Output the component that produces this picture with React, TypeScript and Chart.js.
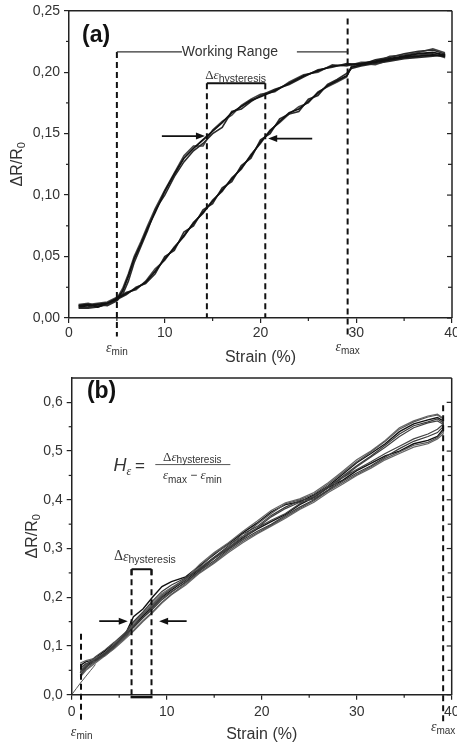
import React, { useEffect, useRef } from "react";
import { Chart, registerables } from "chart.js";
Chart.register(...registerables);

const SANS = '"Liberation Sans", Arial, Helvetica, sans-serif';
const SERIF = '"Liberation Serif", "Times New Roman", serif';
const INK = "#333";
const AXIS = "#222";

// ---------------- Panel (a) data ----------------
const A_UP_X = [1, 2, 3, 4, 5, 5.6, 6.2, 6.8, 7.5, 8.2, 9, 10, 11, 12, 13, 14, 15, 16, 17, 18, 19, 20, 21.5, 23, 24.5, 26, 27.5, 29, 30.5, 32, 33.5, 35, 36.5, 38, 39.2];
const A_UP_1 = [0.010, 0.011, 0.009, 0.012, 0.015, 0.022, 0.034, 0.048, 0.060, 0.073, 0.086, 0.103, 0.117, 0.130, 0.138, 0.145, 0.152, 0.159, 0.167, 0.172, 0.177, 0.180, 0.185, 0.191, 0.197, 0.201, 0.205, 0.206, 0.207, 0.209, 0.211, 0.213, 0.215, 0.216, 0.214];
const A_UP_2 = [0.008, 0.009, 0.011, 0.010, 0.014, 0.019, 0.030, 0.045, 0.058, 0.071, 0.088, 0.100, 0.115, 0.127, 0.136, 0.142, 0.150, 0.155, 0.168, 0.170, 0.176, 0.181, 0.186, 0.190, 0.196, 0.202, 0.204, 0.207, 0.206, 0.210, 0.212, 0.215, 0.217, 0.218, 0.215];
const A_UP_3 = [0.011, 0.012, 0.010, 0.011, 0.016, 0.024, 0.036, 0.050, 0.062, 0.075, 0.089, 0.104, 0.118, 0.132, 0.140, 0.140, 0.153, 0.160, 0.165, 0.173, 0.178, 0.182, 0.184, 0.192, 0.198, 0.200, 0.206, 0.205, 0.208, 0.208, 0.213, 0.214, 0.216, 0.219, 0.216];
const A_DN_X = [39.2, 38, 36.5, 35, 33.5, 32, 30.5, 29.5, 29, 28, 27, 26, 25, 24, 23, 22, 21, 20, 19, 18, 17, 16, 15, 14, 13, 12, 11, 10, 9, 8, 7, 6, 5, 4, 3, 2, 1];
const A_DN_1 = [0.213, 0.214, 0.213, 0.212, 0.210, 0.208, 0.206, 0.204, 0.197, 0.193, 0.189, 0.183, 0.176, 0.170, 0.167, 0.160, 0.152, 0.143, 0.132, 0.122, 0.113, 0.104, 0.095, 0.086, 0.077, 0.067, 0.057, 0.048, 0.038, 0.029, 0.024, 0.020, 0.016, 0.012, 0.011, 0.010, 0.009];
const A_DN_2 = [0.214, 0.213, 0.212, 0.211, 0.209, 0.207, 0.205, 0.203, 0.199, 0.194, 0.190, 0.181, 0.178, 0.168, 0.166, 0.162, 0.150, 0.145, 0.130, 0.124, 0.111, 0.106, 0.093, 0.088, 0.075, 0.070, 0.055, 0.050, 0.036, 0.028, 0.025, 0.019, 0.015, 0.011, 0.009, 0.008, 0.008];
const A_DN_3 = [0.212, 0.215, 0.214, 0.212, 0.210, 0.206, 0.207, 0.205, 0.196, 0.192, 0.188, 0.184, 0.175, 0.172, 0.166, 0.159, 0.153, 0.142, 0.133, 0.121, 0.114, 0.103, 0.096, 0.085, 0.078, 0.066, 0.058, 0.047, 0.040, 0.030, 0.023, 0.021, 0.017, 0.013, 0.012, 0.011, 0.010];
const A_X_TICKS = [0, 10, 20, 30, 40];
const A_X_MINOR = [5, 15, 25, 35];
const A_Y_TICKS = [0, 0.05, 0.1, 0.15, 0.2, 0.25];
const A_Y_MINOR = [0.025, 0.075, 0.125, 0.175, 0.225];
const A_EPS_MIN = 5;
const A_EPS_MAX = 29.1;
const A_HYST = [14.4, 20.5];
const A_RANGE_LEVEL = 0.2165;
const A_MAX_TOP = 0.2437;
const A_HYST_LEVEL = 0.191;

// ---------------- Panel (b) data ----------------
const B_UP_X = [0.9, 1.5, 2.5, 3.5, 4.5, 5.5, 6.5, 7.5, 8.5, 9.5, 10.5, 12, 13.5, 15, 16.5, 18, 19.5, 21, 22.5, 24, 25.5, 27, 28.5, 30, 31.5, 33, 34.5, 36, 37.5, 38.5, 39.1];
const B_UP_1 = [0.060, 0.068, 0.072, 0.080, 0.097, 0.118, 0.160, 0.176, 0.200, 0.222, 0.232, 0.242, 0.265, 0.288, 0.310, 0.332, 0.352, 0.375, 0.390, 0.396, 0.410, 0.428, 0.452, 0.476, 0.495, 0.515, 0.540, 0.556, 0.564, 0.569, 0.562];
const B_UP_2 = [0.055, 0.064, 0.070, 0.083, 0.100, 0.122, 0.150, 0.170, 0.192, 0.212, 0.225, 0.240, 0.258, 0.282, 0.305, 0.330, 0.345, 0.368, 0.385, 0.398, 0.405, 0.425, 0.448, 0.470, 0.490, 0.512, 0.535, 0.552, 0.560, 0.566, 0.558];
const B_UP_3 = [0.050, 0.062, 0.074, 0.085, 0.102, 0.118, 0.145, 0.165, 0.185, 0.205, 0.218, 0.236, 0.262, 0.290, 0.308, 0.325, 0.350, 0.372, 0.392, 0.400, 0.412, 0.432, 0.455, 0.478, 0.498, 0.520, 0.545, 0.560, 0.570, 0.574, 0.566];
const B_UP_4 = [0.045, 0.058, 0.068, 0.082, 0.098, 0.115, 0.138, 0.158, 0.178, 0.198, 0.212, 0.230, 0.255, 0.280, 0.300, 0.320, 0.342, 0.365, 0.382, 0.395, 0.402, 0.420, 0.445, 0.468, 0.488, 0.508, 0.530, 0.548, 0.558, 0.562, 0.555];
const B_UP_5 = [0.065, 0.070, 0.075, 0.086, 0.104, 0.124, 0.148, 0.168, 0.188, 0.208, 0.220, 0.238, 0.268, 0.292, 0.312, 0.335, 0.356, 0.378, 0.394, 0.402, 0.415, 0.435, 0.458, 0.482, 0.500, 0.522, 0.548, 0.562, 0.572, 0.576, 0.568];
const B_DN_X = [39.1, 38.5, 37.5, 36, 34.5, 33, 31.5, 30, 28.5, 27, 25.5, 24, 22.5, 21, 19.5, 18, 16.5, 15, 13.5, 12, 10.5, 9.5, 8.5, 7.5, 6.5, 5.5, 4.5, 3.5, 2.5, 1.5, 0.9];
const B_DN_1 = [0.545, 0.530, 0.522, 0.515, 0.500, 0.490, 0.475, 0.460, 0.440, 0.425, 0.405, 0.390, 0.370, 0.355, 0.340, 0.322, 0.300, 0.280, 0.258, 0.235, 0.215, 0.200, 0.180, 0.162, 0.140, 0.122, 0.105, 0.090, 0.075, 0.058, 0.045];
const B_DN_2 = [0.550, 0.538, 0.530, 0.520, 0.505, 0.488, 0.470, 0.455, 0.438, 0.420, 0.400, 0.385, 0.368, 0.350, 0.335, 0.318, 0.298, 0.275, 0.255, 0.232, 0.210, 0.195, 0.175, 0.158, 0.138, 0.120, 0.102, 0.086, 0.072, 0.055, 0.040];
const B_DN_3 = [0.540, 0.528, 0.518, 0.512, 0.498, 0.485, 0.468, 0.452, 0.435, 0.418, 0.398, 0.382, 0.365, 0.348, 0.332, 0.315, 0.295, 0.272, 0.252, 0.228, 0.206, 0.190, 0.170, 0.152, 0.132, 0.115, 0.098, 0.083, 0.068, 0.052, 0.038];
const B_DN_4 = [0.555, 0.545, 0.535, 0.525, 0.510, 0.495, 0.478, 0.462, 0.445, 0.428, 0.408, 0.392, 0.372, 0.358, 0.342, 0.325, 0.302, 0.282, 0.260, 0.238, 0.218, 0.202, 0.182, 0.165, 0.142, 0.125, 0.108, 0.092, 0.078, 0.060, 0.048];
const B_DN_5 = [0.535, 0.525, 0.515, 0.508, 0.495, 0.482, 0.465, 0.450, 0.432, 0.415, 0.395, 0.380, 0.362, 0.346, 0.330, 0.312, 0.292, 0.270, 0.250, 0.225, 0.205, 0.188, 0.168, 0.150, 0.130, 0.112, 0.095, 0.080, 0.065, 0.050, 0.036];
const B_FIRST_X = [0, 0.5, 1, 1.5, 2, 2.5];
const B_FIRST_Y = [0, 0.013, 0.026, 0.038, 0.05, 0.062];
const B_X_TICKS = [0, 10, 20, 30, 40];
const B_X_MINOR = [5, 15, 25, 35];
const B_Y_TICKS = [0, 0.1, 0.2, 0.3, 0.4, 0.5, 0.6];
const B_Y_MINOR = [0.05, 0.15, 0.25, 0.35, 0.45, 0.55];
const B_EPS_MIN = 0.98;
const B_EPS_MAX = 39.1;
const B_HYST = [6.3, 8.4];
const B_HYST_LEVEL = 0.2575;

// ---------------- helpers ----------------
type Run = [string, string, number?];
const sans = (s: number) => `${s}px ${SANS}`;
const serif = (s: number) => `${s}px ${SERIF}`;
const serifI = (s: number) => `italic ${s}px ${SERIF}`;

function drawRuns(ctx: CanvasRenderingContext2D, runs: Run[], x: number, y: number, align: "center" | "left" = "center") {
  let w = 0;
  for (const [t, f] of runs) { ctx.font = f; w += ctx.measureText(t).width; }
  let cx = align === "center" ? x - w / 2 : x;
  ctx.textAlign = "left";
  ctx.textBaseline = "middle";
  for (const [t, f, dy] of runs) {
    ctx.font = f;
    ctx.fillText(t, cx, y + (dy || 0));
    cx += ctx.measureText(t).width;
  }
}
const epsRuns = (sub: string, s: number, ss: number): Run[] => [["ε", serifI(s)], [sub, sans(ss), ss * 0.4]];
const hystRuns = (s: number, ss: number): Run[] => [["Δ", serif(s)], ["ε", serifI(s)], ["hysteresis", sans(ss), ss * 0.35]];

function vline(ctx: CanvasRenderingContext2D, x: number, y1: number, y2: number) {
  ctx.beginPath(); ctx.moveTo(x, y1); ctx.lineTo(x, y2); ctx.stroke();
}
function hline(ctx: CanvasRenderingContext2D, y: number, x1: number, x2: number) {
  ctx.beginPath(); ctx.moveTo(x1, y); ctx.lineTo(x2, y); ctx.stroke();
}
function arrow(ctx: CanvasRenderingContext2D, x1: number, y1: number, x2: number, y2: number) {
  const a = Math.atan2(y2 - y1, x2 - x1);
  const L = 9, W = 3.5;
  const c = Math.cos(a), s = Math.sin(a);
  ctx.beginPath(); ctx.moveTo(x1, y1); ctx.lineTo(x2 - L * 0.7 * c, y2 - L * 0.7 * s); ctx.stroke();
  ctx.beginPath();
  ctx.moveTo(x2, y2);
  ctx.lineTo(x2 - L * c + W * s, y2 - L * s - W * c);
  ctx.lineTo(x2 - L * c - W * s, y2 - L * s + W * c);
  ctx.closePath(); ctx.fill();
}

const pts = (xs: number[], ys: number[]) => xs.map((x, i) => ({ x, y: ys[i] }));

type Spec = {
  datasets: any[];
  xTicks: number[]; xMinor: number[]; yTicks: number[]; yMinor: number[];
  yMax: number; decimals: number;
  yAxisWidth: number; xAxisHeight: number; padTop: number; padRight: number;
  yTitleX: number; xTitleY: number; tickPadX: number;
  annotate: (ctx: CanvasRenderingContext2D, X: (v: number) => number, Y: (v: number) => number) => void;
};

function makeConfig(spec: Spec): any {
  const deco = {
    id: "deco",
    afterDraw(chart: any) {
      const ctx: CanvasRenderingContext2D = chart.ctx;
      const a = chart.chartArea;
      const xs = chart.scales.x, ys = chart.scales.y;
      const X = (v: number) => xs.getPixelForValue(v);
      const Y = (v: number) => ys.getPixelForValue(v);
      ctx.save();
      // box: top + right
      ctx.strokeStyle = AXIS; ctx.lineWidth = 1.5;
      hline(ctx, a.top, a.left, a.right);
      vline(ctx, a.right, a.top, a.bottom);
      ctx.lineWidth = 1.2;
      // right inward ticks
      for (const v of spec.yTicks) hline(ctx, Y(v), a.right - 5, a.right);
      for (const v of spec.yMinor) hline(ctx, Y(v), a.right - 4, a.right);
      // minor outward ticks
      for (const v of spec.yMinor) hline(ctx, Y(v), a.left - 3, a.left);
      for (const v of spec.xMinor) vline(ctx, X(v), a.bottom, a.bottom + 3);
      // axis titles
      ctx.fillStyle = INK;
      drawRuns(ctx, [["Strain (%)", sans(16)]], (a.left + a.right) / 2, spec.xTitleY);
      ctx.save();
      ctx.translate(spec.yTitleX, (a.top + a.bottom) / 2);
      ctx.rotate(-Math.PI / 2);
      drawRuns(ctx, [["ΔR/R", sans(16)], ["0", sans(11), 4]], 0, 0);
      ctx.restore();
      spec.annotate(ctx, X, Y);
      ctx.restore();
    },
  };
  return {
    type: "scatter",
    data: { datasets: spec.datasets },
    plugins: [deco],
    options: {
      animation: false,
      responsive: false,
      devicePixelRatio: 1,
      layout: { padding: { top: spec.padTop, right: spec.padRight, left: 0, bottom: 0 } },
      plugins: { legend: { display: false }, tooltip: { enabled: false } },
      elements: { point: { radius: 0 }, line: { tension: 0 } },
      scales: {
        x: {
          type: "linear", min: 0, max: 40,
          afterBuildTicks: (s: any) => { s.ticks = spec.xTicks.map((v) => ({ value: v })); },
          afterFit: (s: any) => { s.height = spec.xAxisHeight; s.paddingLeft = 0; s.paddingRight = 0; },
          ticks: { font: { family: SANS, size: 14 }, color: INK, padding: spec.tickPadX, maxRotation: 0, callback: (v: any) => String(v) },
          grid: { drawOnChartArea: false, drawTicks: true, tickLength: 5, color: AXIS, lineWidth: 1.2 },
          border: { display: true, color: AXIS, width: 1.5 },
        },
        y: {
          type: "linear", min: 0, max: spec.yMax,
          afterBuildTicks: (s: any) => { s.ticks = spec.yTicks.map((v) => ({ value: v })); },
          afterFit: (s: any) => { s.width = spec.yAxisWidth; s.paddingTop = 0; s.paddingBottom = 0; },
          ticks: { font: { family: SANS, size: 14 }, color: INK, padding: 4, callback: (v: any) => Number(v).toFixed(spec.decimals).replace(".", ",") },
          grid: { drawOnChartArea: false, drawTicks: true, tickLength: 5, color: AXIS, lineWidth: 1.2 },
          border: { display: true, color: AXIS, width: 1.5 },
        },
      },
    },
  };
}

const lineDs = (data: any[], color: string, width: number) => ({
  data, showLine: true, borderColor: color, borderWidth: width, pointRadius: 0, fill: false, tension: 0,
});

const specA: Spec = {
  datasets: [
    lineDs([...pts(A_UP_1 && A_UP_X, A_UP_1), ...pts(A_DN_X, A_DN_1)], "#111", 1.8),
    lineDs([...pts(A_UP_X, A_UP_2), ...pts(A_DN_X, A_DN_2)], "#2b2b2b", 1.6),
    lineDs([...pts(A_UP_X, A_UP_3), ...pts(A_DN_X, A_DN_3)], "#444", 1.5),
  ],
  xTicks: A_X_TICKS, xMinor: A_X_MINOR, yTicks: A_Y_TICKS, yMinor: A_Y_MINOR,
  yMax: 0.25, decimals: 2,
  yAxisWidth: 69, xAxisHeight: 54, padTop: 10.7, padRight: 5,
  yTitleX: 18, xTitleY: 358, tickPadX: 2,
  annotate: (ctx, X, Y) => {
    ctx.strokeStyle = "#111"; ctx.lineWidth = 2; ctx.setLineDash([6, 4]);
    vline(ctx, X(A_EPS_MIN), Y(A_RANGE_LEVEL), Y(-0.015));
    vline(ctx, X(A_EPS_MAX), Y(A_MAX_TOP), Y(-0.015));
    vline(ctx, X(A_HYST[0]), Y(A_HYST_LEVEL), Y(0));
    vline(ctx, X(A_HYST[1]), Y(A_HYST_LEVEL), Y(0));
    ctx.setLineDash([]);
    ctx.strokeStyle = INK; ctx.lineWidth = 1.3;
    hline(ctx, Y(A_RANGE_LEVEL), X(A_EPS_MIN), X(11.8));
    hline(ctx, Y(A_RANGE_LEVEL), X(23.8), X(A_EPS_MAX));
    ctx.strokeStyle = "#111"; ctx.lineWidth = 2;
    hline(ctx, Y(A_HYST_LEVEL), X(A_HYST[0]), X(A_HYST[1]));
    ctx.fillStyle = "#111"; ctx.lineWidth = 1.8;
    arrow(ctx, X(9.7), Y(0.148), X(14.2), Y(0.148));
    arrow(ctx, X(25.4), Y(0.146), X(20.8), Y(0.146));
    ctx.fillStyle = "#111";
    drawRuns(ctx, [["(a)", `bold 23px ${SANS}`]], X(1.36), Y(0.230), "left");
    ctx.fillStyle = INK;
    drawRuns(ctx, [["Working Range", sans(14)]], X(16.8), Y(A_RANGE_LEVEL));
    drawRuns(ctx, hystRuns(13, 10.5), X(17.4), Y(0.197));
    drawRuns(ctx, epsRuns("min", 14, 10), X(A_EPS_MIN), Y(-0.025));
    drawRuns(ctx, epsRuns("max", 14, 10), X(A_EPS_MAX), Y(-0.024));
  },
};

const specB: Spec = {
  datasets: [
    lineDs(pts(B_FIRST_X, B_FIRST_Y), "#555", 1),
    lineDs([...pts(B_UP_X, B_UP_2), ...pts(B_DN_X, B_DN_2)], "#3a3a3a", 1.2),
    lineDs([...pts(B_UP_X, B_UP_3), ...pts(B_DN_X, B_DN_3)], "#555", 1.2),
    lineDs([...pts(B_UP_X, B_UP_4), ...pts(B_DN_X, B_DN_4)], "#444", 1.2),
    lineDs([...pts(B_UP_X, B_UP_5), ...pts(B_DN_X, B_DN_5)], "#666", 1.2),
    lineDs([...pts(B_UP_X, B_UP_1), ...pts(B_DN_X, B_DN_1)], "#111", 1.4),
  ],
  xTicks: B_X_TICKS, xMinor: B_X_MINOR, yTicks: B_Y_TICKS, yMinor: B_Y_MINOR,
  yMax: 0.65, decimals: 1,
  yAxisWidth: 71.7, xAxisHeight: 49.3, padTop: 6, padRight: 5.3,
  yTitleX: 33, xTitleY: 363, tickPadX: 4,
  annotate: (ctx, X, Y) => {
    ctx.strokeStyle = "#111"; ctx.lineWidth = 2; ctx.setLineDash([6, 4]);
    vline(ctx, X(B_EPS_MIN), Y(0.125), Y(-0.053));
    vline(ctx, X(B_EPS_MAX), Y(0.594), Y(-0.06));
    vline(ctx, X(B_HYST[0]), Y(B_HYST_LEVEL), Y(-0.005));
    vline(ctx, X(B_HYST[1]), Y(B_HYST_LEVEL), Y(-0.005));
    ctx.setLineDash([]);
    ctx.lineWidth = 2;
    hline(ctx, Y(B_HYST_LEVEL), X(B_HYST[0]), X(B_HYST[1]));
    vline(ctx, X(B_HYST[0]), Y(B_HYST_LEVEL), Y(B_HYST_LEVEL) + 6);
    vline(ctx, X(B_HYST[1]), Y(B_HYST_LEVEL), Y(B_HYST_LEVEL) + 6);
    ctx.lineWidth = 2.4;
    hline(ctx, Y(-0.005), X(B_HYST[0]) - 1, X(B_HYST[1]) + 1);
    ctx.fillStyle = "#111"; ctx.lineWidth = 1.8;
    arrow(ctx, X(2.9), Y(0.151), X(5.9), Y(0.151));
    arrow(ctx, X(12.1), Y(0.151), X(9.2), Y(0.151));
    drawRuns(ctx, [["(b)", `bold 23px ${SANS}`]], X(1.6), Y(0.6216), "left");
    ctx.fillStyle = INK;
    drawRuns(ctx, hystRuns(14, 10.5), X(7.7), Y(0.283));
    // formula
    drawRuns(ctx, [["H", `italic 18px ${SANS}`], ["ε", serifI(12), 5]], X(4.4), Y(0.4686), "left");
    drawRuns(ctx, [["=", sans(17)]], X(6.66), Y(0.4686), "left");
    ctx.strokeStyle = "#555"; ctx.lineWidth = 1;
    hline(ctx, Y(0.4723), X(8.8), X(16.7));
    drawRuns(ctx, hystRuns(13, 10), X(12.7), Y(0.4874));
    drawRuns(ctx, [...epsRuns("max", 13, 10), [" − ", sans(12)], ...epsRuns("min", 13, 10)], X(12.7), Y(0.449));
    drawRuns(ctx, epsRuns("min", 14, 10), X(1.05), Y(-0.0766));
    drawRuns(ctx, epsRuns("max", 14, 10), X(B_EPS_MAX), Y(-0.066));
  },
};

function Panel({ spec }: { spec: Spec }) {
  const ref = useRef<HTMLCanvasElement>(null);
  useEffect(() => {
    const chart = new Chart(ref.current as HTMLCanvasElement, makeConfig(spec));
    return () => chart.destroy();
  }, [spec]);
  return <canvas ref={ref} width={457} height={372} style={{ display: "block", width: 457, height: 372 }} />;
}

export default function App() {
  return (
    <div style={{ position: "fixed", left: 0, top: 0, width: 457, height: 744, background: "#fff" }}>
      <Panel spec={specA} />
      <Panel spec={specB} />
    </div>
  );
}
